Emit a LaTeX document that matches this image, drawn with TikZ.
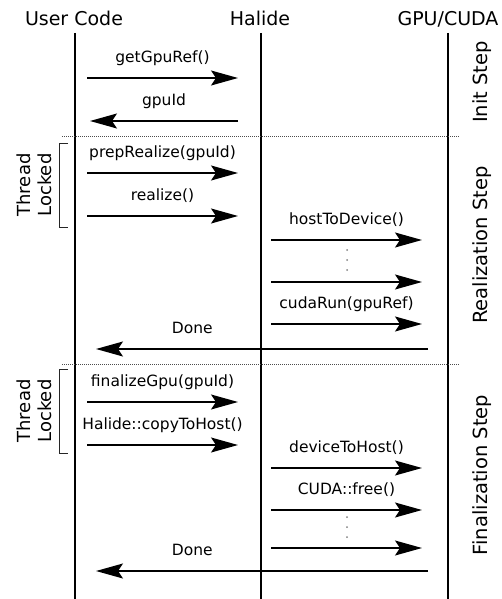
\documentclass[tikz,border=0pt]{standalone}
\usepackage{fontspec}
\setmainfont{DejaVu Sans}
\usetikzlibrary{arrows.meta}
\tikzset{every picture/.style={line width=1.5pt}}

\begin{document}
\begin{tikzpicture}[x=1pt,y=-1pt,
    msg/.style={-{Stealth[length=27pt,width=15pt,inset=5pt]}, line width=1.5pt},
    lbl/.style={anchor=base, yshift=15.5pt, inner sep=0pt, font=\fontsize{15.5}{18}\selectfont},
    hdr/.style={anchor=base, inner sep=0pt, font=\fontsize{19}{22}\selectfont},
    life/.style={line width=2.5pt},
    sepline/.style={densely dotted, line width=1pt, black!70},
    lock/.style={line width=1pt, black!85},
    steplbl/.style={rotate=90, inner sep=0pt, font=\fontsize{19.5}{22}\selectfont},
    lockedlbl/.style={rotate=90, align=center, inner sep=0pt, font=\fontsize{18}{21}\selectfont},
    ddot/.style={circle, fill=gray, inner sep=0pt, minimum size=2pt}]
    \useasboundingbox (0,0) rectangle (502,599);

    % headers and lifelines
    \node[hdr] (user) at (74,26) {User Code};
    \node[hdr] (halide) at (260,26) {Halide};
    \node[hdr] (gpu) at (448,26) {GPU/CUDA};
    \coordinate (userTop) at (75,33);   \coordinate (userBot) at (75,599);
    \coordinate (halTop) at (261,33);   \coordinate (halBot) at (261,599);
    \coordinate (gpuTop) at (448,33);   \coordinate (gpuBot) at (448,599);
    \draw[life] (userTop) -- (userBot);
    \draw[life] (halTop) -- (halBot);
    \draw[life] (gpuTop) -- (gpuBot);

    % step separators
    \coordinate (sepA1) at (62,136);  \coordinate (sepA2) at (460,136);
    \coordinate (sepB1) at (62,364);  \coordinate (sepB2) at (460,364);
    \draw[sepline] (sepA1) -- (sepA2);
    \draw[sepline] (sepB1) -- (sepB2);

    % step names
    \node[steplbl] (init) at (482,82) {Init Step};
    \node[steplbl] (realization) at (482,245) {Realization Step};
    \node[steplbl] (finalization) at (482,475) {Finalization Step};

    % thread locked brackets
    \coordinate (lockA1) at (68,143); \coordinate (lockA2) at (59,143);
    \coordinate (lockA3) at (59,227); \coordinate (lockA4) at (68,227);
    \coordinate (lockB1) at (68,369); \coordinate (lockB2) at (59,369);
    \coordinate (lockB3) at (59,453); \coordinate (lockB4) at (68,453);
    \draw[lock] (lockA1) -- (lockA2) -- (lockA3) -- (lockA4);
    \draw[lock] (lockB1) -- (lockB2) -- (lockB3) -- (lockB4);
    \node[lockedlbl] (lockedA) at (34,185) {Thread\\Locked};
    \node[lockedlbl] (lockedB) at (34,411) {Thread\\Locked};

    % message end points
    \coordinate (m1s) at (87,78);    \coordinate (m1e) at (238,78);
    \coordinate (m2s) at (238,121);  \coordinate (m2e) at (90,121);
    \coordinate (m3s) at (87,173);   \coordinate (m3e) at (238,173);
    \coordinate (m4s) at (87,216);   \coordinate (m4e) at (238,216);
    \coordinate (m5s) at (271,240);  \coordinate (m5e) at (422,240);
    \coordinate (m6s) at (271,282);  \coordinate (m6e) at (422,282);
    \coordinate (m7s) at (271,324);  \coordinate (m7e) at (422,324);
    \coordinate (m8s) at (428,349);  \coordinate (m8e) at (96,349);
    \coordinate (m9s) at (87,402);   \coordinate (m9e) at (238,402);
    \coordinate (m10s) at (87,445);  \coordinate (m10e) at (238,445);
    \coordinate (m11s) at (271,468); \coordinate (m11e) at (422,468);
    \coordinate (m12s) at (271,510); \coordinate (m12e) at (422,510);
    \coordinate (m13s) at (271,548); \coordinate (m13e) at (422,548);
    \coordinate (m14s) at (428,571); \coordinate (m14e) at (96,571);

    \draw
        (m1s) edge[msg] node[lbl] (l1) {getGpuRef()} (m1e)
        (m2s) edge[msg] node[lbl] (l2) {gpuId} (m2e)
        (m3s) edge[msg] node[lbl] (l3) {prepRealize(gpuId)} (m3e)
        (m4s) edge[msg] node[lbl] (l4) {realize()} (m4e)
        (m5s) edge[msg] node[lbl] (l5) {hostToDevice()} (m5e)
        (m6s) edge[msg] (m6e)
        (m7s) edge[msg] node[lbl] (l7) {cudaRun(gpuRef)} (m7e)
        (m8s) edge[msg] node[lbl,pos=0.71] (l8) {Done} (m8e)
        (m9s) edge[msg] node[lbl] (l9) {finalizeGpu(gpuId)} (m9e)
        (m10s) edge[msg] node[lbl] (l10) {Halide::copyToHost()} (m10e)
        (m11s) edge[msg] node[lbl] (l11) {deviceToHost()} (m11e)
        (m12s) edge[msg] node[lbl] (l12) {CUDA::free()} (m12e)
        (m13s) edge[msg] (m13e)
        (m14s) edge[msg] node[lbl,pos=0.71] (l14) {Done} (m14e)
        ;

    % vertical ellipses
    \foreach \y [count=\i] in {250,260,270} {
        \node[ddot] (dotA\i) at (347,\y) {};
    }
    \foreach \y [count=\i] in {517,527,537} {
        \node[ddot] (dotB\i) at (347,\y) {};
    }
\end{tikzpicture}
\end{document}
